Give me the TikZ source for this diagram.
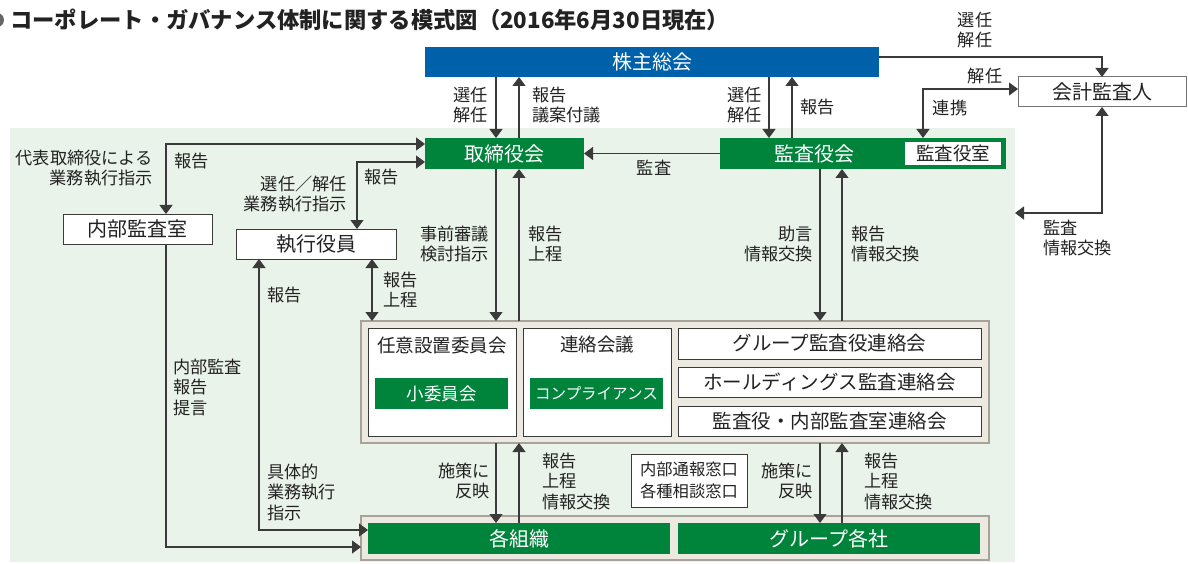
\documentclass[tikz,border=0pt]{standalone}
\usepackage{fontspec}
\setmainfont{Noto Sans CJK JP}
\usetikzlibrary{arrows.meta,calc}
\definecolor{sblue}{HTML}{0061AB}
\definecolor{sgreen}{HTML}{00843C}
\definecolor{bgg}{HTML}{EAF3EA}
\definecolor{frfill}{HTML}{ECE9E1}
\definecolor{frline}{HTML}{A7A39B}
\definecolor{ln}{HTML}{3A3A3A}
\definecolor{txt}{HTML}{222222}
\begin{document}
\begin{tikzpicture}[x=1pt,y=-1pt,
  bt/.style={font=\fontsize{20}{24}\selectfont},
  bts/.style={font=\fontsize{18.5}{22}\selectfont},
  bluebox/.style={fill=sblue,text=white,inner sep=0pt,outer sep=0pt,bt},
  greenbox/.style={fill=sgreen,text=white,inner sep=0pt,outer sep=0pt,bt},
  wbox/.style={fill=white,draw=ln,line width=1pt,inner sep=0pt,outer sep=0pt,text=txt,bt},
  gbox/.style={fill=white,draw=black!55,line width=1pt,inner sep=0pt,outer sep=0pt,text=txt,bt},
  frame/.style={fill=frfill,draw=frline,line width=1.8pt,inner sep=0pt,outer sep=0pt},
  lbl/.style={font=\fontsize{17.2}{20.5}\selectfont,inner sep=0pt,text=txt},
  arr/.style={draw=ln,line width=1.2pt,arrows={-Triangle[width=13pt,length=9pt]}},
  arrb/.style={draw=ln,line width=1.2pt,arrows={Triangle[width=13pt,length=9pt]-Triangle[width=13pt,length=9pt]}}
]
\useasboundingbox (0,0) rectangle (1188,564);
\fill[white] (0,0) rectangle (1188,564);
% background
\fill[bgg] (10,128) rectangle (1015,562);
\fill[black!60] (-3,20) circle (7);
% title
\node[anchor=west,inner sep=0pt,text=txt,font=\fontsize{22.3}{26}\selectfont\bfseries] (title) at (10,20) {コーポレート・ガバナンス体制に関する模式図（2016年6月30日現在）};

% main boxes
\node[bluebox,minimum width=454pt,minimum height=30pt] (sh) at (652,62) {株主総会};
\node[greenbox,minimum width=159pt,minimum height=31pt] (tori) at (504.5,153.5) {取締役会};
\node[greenbox,minimum width=286pt,minimum height=31pt] (kansa) at (863,153.5) {};
\node[inner sep=0pt,text=white,bt] (kansat) at (814,153.5) {監査役会};
\node[fill=white,inner sep=0pt,outer sep=0pt,text=txt,bts,minimum width=96pt,minimum height=23pt] (kshitsu) at (953,153.5) {監査役室};
\node[gbox,minimum width=168pt,minimum height=30pt] (kaikei) at (1102,92) {会計監査人};
\node[wbox,minimum width=149pt,minimum height=30pt] (naibu) at (137.5,229) {内部監査室};
\node[wbox,minimum width=160pt,minimum height=30pt] (shikko) at (316,244) {執行役員};

% middle frame
\node[frame,minimum width=628pt,minimum height=122pt] (fr1) at (675,382) {};
\node[wbox,minimum width=148pt,minimum height=108pt] (nin) at (442,382) {};
\node[inner sep=0pt,text=txt,bts] (nint) at (442,345) {任意設置委員会};
\node[greenbox,font=\fontsize{17.5}{21}\selectfont,minimum width=133pt,minimum height=31pt] (sho) at (441.5,393.5) {小委員会};
\node[wbox,minimum width=148pt,minimum height=108pt] (ren) at (597,382) {};
\node[inner sep=0pt,text=txt,bts] (rent) at (597,345) {連絡会議};
\node[greenbox,font=\fontsize{15.5}{18}\selectfont,minimum width=133pt,minimum height=31pt] (comp) at (596.5,393.5) {コンプライアンス};
\node[wbox,font=\fontsize{19.5}{23}\selectfont,minimum width=303pt,minimum height=31pt] (g1) at (829.5,343.5) {グループ監査役連絡会};
\node[wbox,font=\fontsize{19.5}{23}\selectfont,minimum width=303pt,minimum height=30pt] (g2) at (829.5,382) {ホールディングス監査連絡会};
\node[wbox,font=\fontsize{19.5}{23}\selectfont,minimum width=303pt,minimum height=30pt] (g3) at (829.5,421) {監査役・内部監査室連絡会};

% bottom frame
\node[frame,minimum width=628pt,minimum height=44pt] (fr2) at (675,538) {};
\node[greenbox,minimum width=302pt,minimum height=31pt] (kaku) at (519,538.5) {各組織};
\node[greenbox,minimum width=302pt,minimum height=31pt] (grp) at (829,538.5) {グループ各社};
\node[wbox,font=\fontsize{16.3}{22}\selectfont,align=center,minimum width=116pt,minimum height=53pt] (mado) at (689,480.5) {内部通報窓口\\各種相談窓口};

% guide coordinates
\coordinate (cA) at (496,0);
\coordinate (cB) at (519,0);
\coordinate (cC) at (769,0);
\coordinate (cD) at (792,0);
\coordinate (cE) at (820,0);
\coordinate (cF) at (842,0);
\coordinate (cG) at (166,0);
\coordinate (cH) at (357,0);
\coordinate (cI) at (259,0);
\coordinate (cJ) at (372,0);
\coordinate (cK) at (923,0);
\coordinate (rA) at (0,57);
\coordinate (rB) at (0,89);
\coordinate (rD) at (0,144);
\coordinate (rE) at (0,162);
\coordinate (rF) at (0,547);
\coordinate (rG) at (0,530);
\coordinate (edgeL) at (1015,213);

% connectors
\draw[arr] (sh.east |- rA) -| (kaikei.north);
\draw[arrb] (kaikei.west |- rB) -| (cK |- kansa.north);
\draw[arrb] (kaikei.south) |- (edgeL);
\draw[arr] (sh.south -| cA) -- (tori.north -| cA);
\draw[arr] (tori.north -| cB) -- (sh.south -| cB);
\draw[arr] (sh.south -| cC) -- (kansa.north -| cC);
\draw[arr] (kansa.north -| cD) -- (sh.south -| cD);
\draw[arr] (kansa.west) -- (tori.east);
\draw[arrb] (tori.west |- rD) -| (naibu.north -| cG);
\draw[arrb] (tori.west |- rE) -| (shikko.north -| cH);
\draw[arr] (tori.south -| cA) -- (fr1.north -| cA);
\draw[arr] (fr1.north -| cB) -- (tori.south -| cB);
\draw[arr] (kansa.south -| cE) -- (fr1.north -| cE);
\draw[arr] (fr1.north -| cF) -- (kansa.south -| cF);
\draw[arrb] (shikko.south -| cJ) -- (fr1.north -| cJ);
\draw[arr] (naibu.south -| cG) |- (fr2.west |- rF);
\draw[arrb] (shikko.south -| cI) |- (kaku.west |- rG);
\draw[arr] (fr1.south -| cA) -- (kaku.north -| cA);
\draw[arr] (kaku.north -| cB) -- (fr1.south -| cB);
\draw[arr] (fr1.south -| cE) -- (grp.north -| cE);
\draw[arr] (grp.north -| cF) -- (fr1.south -| cF);

% labels
\node[lbl,align=center] (l1) at (975,30) {選任\\解任};
\node[lbl] (l2) at (985,76) {解任};
\node[lbl] (l3) at (950,108) {連携};
\node[lbl,align=left,anchor=west] (l4) at (1043,238) {監査\\情報交換};
\node[lbl,align=right,anchor=east] (l5) at (488,105) {選任\\解任};
\node[lbl,align=left,anchor=west] (l6) at (532,105) {報告\\議案付議};
\node[lbl,align=right,anchor=east] (l7) at (762,105) {選任\\解任};
\node[lbl,anchor=west] (l8) at (800,107) {報告};
\node[lbl] (l9) at (654,168) {監査};
\node[lbl,align=right,anchor=east] (l10) at (153,168) {代表取締役による\\業務執行指示};
\node[lbl,anchor=west] (l11) at (174,161) {報告};
\node[lbl,align=right,anchor=east] (l12) at (347,194) {選任／解任\\業務執行指示};
\node[lbl,anchor=west] (l13) at (364,177) {報告};
\node[lbl,anchor=west] (l14) at (267,295) {報告};
\node[lbl,align=left,anchor=west] (l15) at (383,290) {報告\\上程};
\node[lbl,align=right,anchor=east] (l16) at (489,244) {事前審議\\検討指示};
\node[lbl,align=left,anchor=west] (l17) at (528,244) {報告\\上程};
\node[lbl,align=right,anchor=east] (l18) at (813,244) {助言\\情報交換};
\node[lbl,align=left,anchor=west] (l19) at (851,244) {報告\\情報交換};
\node[lbl,align=left,anchor=west] (l20) at (173,387) {内部監査\\報告\\提言};
\node[lbl,align=left,anchor=west] (l21) at (267,492) {具体的\\業務執行\\指示};
\node[lbl,align=right,anchor=east] (l22) at (490,481) {施策に\\反映};
\node[lbl,align=left,anchor=west] (l23) at (542,481) {報告\\上程\\情報交換};
\node[lbl,align=right,anchor=east] (l24) at (813,481) {施策に\\反映};
\node[lbl,align=left,anchor=west] (l25) at (864,481) {報告\\上程\\情報交換};
\end{tikzpicture}
\end{document}
